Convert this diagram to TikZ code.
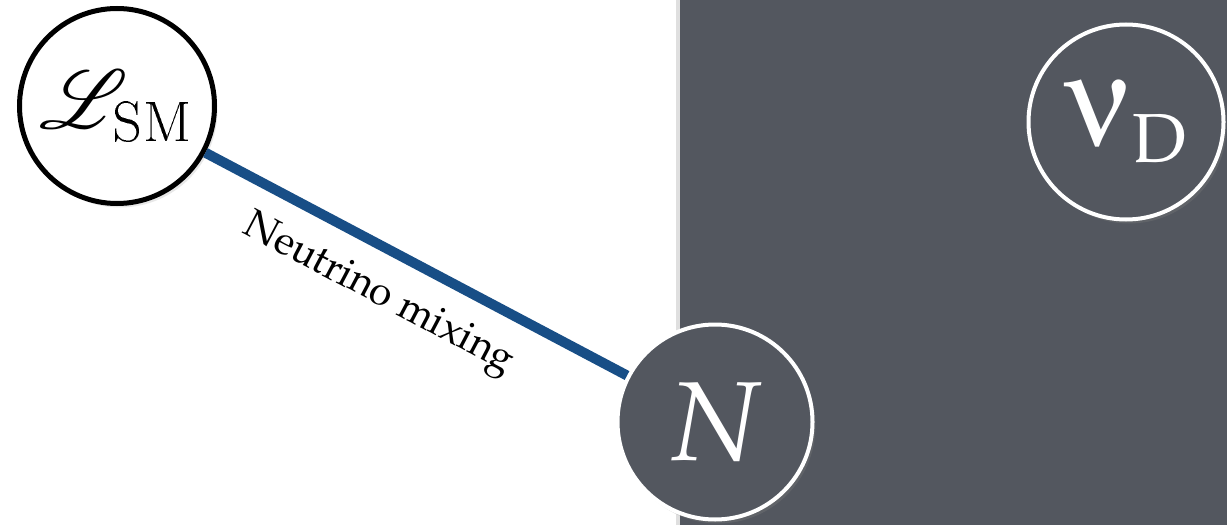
\documentclass[tikz,border=0pt]{standalone}
\usepackage[T1]{fontenc}
\usepackage{amsmath,amssymb}
\usepackage{mathpazo}
\usepackage{mathrsfs}
\usepackage[Symbol]{upgreek}
\usepackage{graphicx}
\usepackage{tikz}
\usetikzlibrary{shadows}
\definecolor{hidden}{RGB}{83,87,95}
\definecolor{mixblue}{RGB}{24,78,134}
\tikzset{
  field/.style={circle, minimum size=3.9cm, inner sep=0pt, line width=0.1cm},
  visible/.style={field, draw=black, fill=white,
    drop shadow={opacity=0.18, shadow xshift=0.6mm, shadow yshift=-0.8mm}},
  dark/.style={field, draw=white, fill=hidden, text=white, line width=0.08cm,
    drop shadow={opacity=0.3, shadow xshift=0.6mm, shadow yshift=-0.8mm}}
}

\begin{document}
\begin{tikzpicture}

\pgfmathsetmacro\W{24.54}
\pgfmathsetmacro\H{10.5}
\pgfmathsetmacro\sx{13.6}

% page and hidden sector
\fill[white] (0,0) rectangle (\W,\H);
\fill[black!35,opacity=0.35] (\sx-0.08,0) rectangle (\sx,\H);
\fill[hidden] (\sx,0) rectangle (\W,\H);

\node[visible] (lsm) at (2.34,8.38)
  {\scalebox{1.9}{\fontsize{24}{28}\selectfont$\mathscr{L}_{\text{\fontfamily{lmr}\selectfont SM}}$}};
\node[dark] (hnl) at (14.3,2.06) {\fontsize{64}{70}\selectfont$N$};
\node[dark] (nud) at (22.52,8.06)
  {\fontsize{52}{60}\selectfont$\text{\scalebox{1.4}{$\upnu$}}_{\mathrm{D}}$};

\draw[mixblue, line width=0.2cm] (lsm) -- (hnl)
  node[pos=0.46, sloped, below=0.3cm, text=black]
  {\fontsize{23}{27}\selectfont Neutrino mixing};
\end{tikzpicture}
\end{document}
